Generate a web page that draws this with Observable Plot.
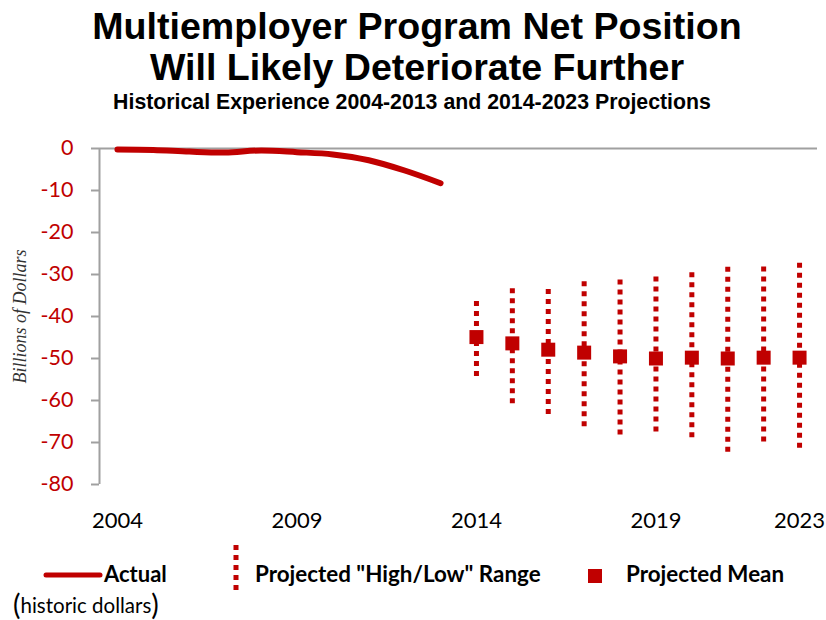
<!DOCTYPE html>
<html>
<head>
<meta charset="utf-8">
<script src="https://cdn.jsdelivr.net/npm/d3@7"></script>
<script src="https://cdn.jsdelivr.net/npm/@observablehq/plot@0.6"></script>
<style>
  html, body { margin: 0; padding: 0; background: #fff; }
  #wrap { width: 826px; }
  svg { display: block; }
</style>
</head>
<body>
<div id="wrap"></div>
<script>
// ---- Data ----
const actualYears = [2004, 2005, 2006, 2007, 2008, 2009, 2010, 2011, 2012, 2013];
const actualValues = [-0.24, -0.34, -0.74, -0.96, -0.47, -0.87, -1.41, -2.79, -5.24, -8.26];

const projYears = [2014, 2015, 2016, 2017, 2018, 2019, 2020, 2021, 2022, 2023];
const projMean  = [-44.9, -46.4, -47.9, -48.6, -49.5, -50.0, -49.8, -50.0, -49.8, -49.8];
const projHigh  = [-36.4, -33.4, -33.6, -31.7, -31.3, -30.6, -29.6, -28.3, -28.2, -27.3];
const projLow   = [-54.5, -61.2, -63.8, -66.8, -68.4, -68.2, -69.5, -72.3, -70.5, -71.7];

const xTicks = [2004, 2009, 2014, 2019, 2023];
const yTicks = [0, -10, -20, -30, -40, -50, -60, -70, -80];

const titleLines = ["Multiemployer Program Net Position", "Will Likely Deteriorate Further"];
const subtitle = "Historical Experience 2004-2013 and 2014-2023 Projections";
const yLabel = "Billions of Dollars";

const actual = actualYears.map((year, i) => ({year, value: actualValues[i]}));
const proj = projYears.map((year, i) => ({year, mean: projMean[i], high: projHigh[i], low: projLow[i]}));

const RED = "#c00000";
const GRAY = "#a0a0a0";
const wrap = document.getElementById("wrap");

// ---- Title ----
const tf = "Liberation Sans, Arial, sans-serif";
const tsvg = d3.create("svg").attr("width", 826).attr("height", 118);
tsvg.append("text").attr("x", 417).attr("y", 39).attr("text-anchor", "middle")
  .attr("font-family", tf).attr("font-weight", "bold").attr("font-size", 37.6).text(titleLines[0]);
tsvg.append("text").attr("x", 417).attr("y", 80).attr("text-anchor", "middle")
  .attr("font-family", tf).attr("font-weight", "bold").attr("font-size", 37.6).text(titleLines[1]);
tsvg.append("text").attr("x", 412).attr("y", 109).attr("text-anchor", "middle")
  .attr("font-family", tf).attr("font-weight", "bold").attr("font-size", 21.3).text(subtitle);
wrap.appendChild(tsvg.node());

// ---- Chart ----
const chart = Plot.plot({
  width: 826,
  height: 417,
  marginTop: 30,
  marginBottom: 51,
  marginLeft: 99,
  marginRight: 9,
  style: {fontFamily: "Lato, sans-serif", background: "#fff"},
  x: {domain: [2003.5, 2023.5]},
  y: {domain: [-80, 0]},
  marks: [
    Plot.axisY({ticks: yTicks, tickFormat: d => String(d), tickSize: 8, tickPadding: 18,
      stroke: GRAY, strokeWidth: 2, fill: RED, fontSize: 21.5, label: null}),
    Plot.axisX({ticks: xTicks, tickFormat: d => String(d), tickSize: 0, tickPadding: 28,
      fill: "#000", fontSize: 22, label: null}),
    Plot.text([yLabel], {frameAnchor: "left", dx: -79, rotate: -90, textAnchor: "middle",
      fontFamily: "Liberation Serif, serif", fontStyle: "italic", fontSize: 18, fill: "#333", text: d => d}),
    Plot.ruleX([2003.5], {y1: -80, y2: 0, stroke: GRAY, strokeWidth: 2}),
    Plot.ruleY([0], {stroke: GRAY, strokeWidth: 2}),
    Plot.line(actual, {x: "year", y: "value", stroke: RED, strokeWidth: 6, strokeLinecap: "round",
      strokeLinejoin: "round", curve: "catmull-rom"}),
    Plot.ruleX(proj, {x: "year", y1: "high", y2: "low", stroke: RED, strokeWidth: 5, strokeDasharray: "5,5"}),
    Plot.dot(proj, {x: "year", y: "mean", symbol: "square", r: 7.9, fill: RED, stroke: "none"})
  ]
});
wrap.appendChild(chart);

// ---- Legend ----
const lsvg = d3.create("svg").attr("width", 826).attr("height", 85);
const lf = "Lato, sans-serif";
lsvg.append("line").attr("x1", 46).attr("x2", 100).attr("y1", 40).attr("y2", 40)
  .attr("stroke", RED).attr("stroke-width", 5).attr("stroke-linecap", "round");
lsvg.append("text").attr("x", 104).attr("y", 47).attr("font-family", lf).attr("font-weight", "bold")
  .attr("font-size", 22).text("Actual");
lsvg.append("line").attr("x1", 236).attr("x2", 236).attr("y1", 10).attr("y2", 60)
  .attr("stroke", RED).attr("stroke-width", 5).attr("stroke-dasharray", "5,5");
lsvg.append("text").attr("x", 255).attr("y", 47).attr("font-family", lf).attr("font-weight", "bold")
  .attr("font-size", 22.4).text('Projected "High/Low" Range');
lsvg.append("rect").attr("x", 588).attr("y", 34).attr("width", 14).attr("height", 14).attr("fill", RED);
lsvg.append("text").attr("x", 626).attr("y", 47).attr("font-family", lf).attr("font-weight", "bold")
  .attr("font-size", 22.4).text("Projected Mean");
const hd = lsvg.append("text").attr("x", 13).attr("y", 78).attr("font-family", lf).attr("font-size", 20.5);
hd.append("tspan").attr("font-size", 28).attr("dy", 2).text("(");
hd.append("tspan").attr("dy", -2).text("historic dollars");
hd.append("tspan").attr("font-size", 28).attr("dy", 2).text(")");
wrap.appendChild(lsvg.node());
</script>
</body>
</html>
